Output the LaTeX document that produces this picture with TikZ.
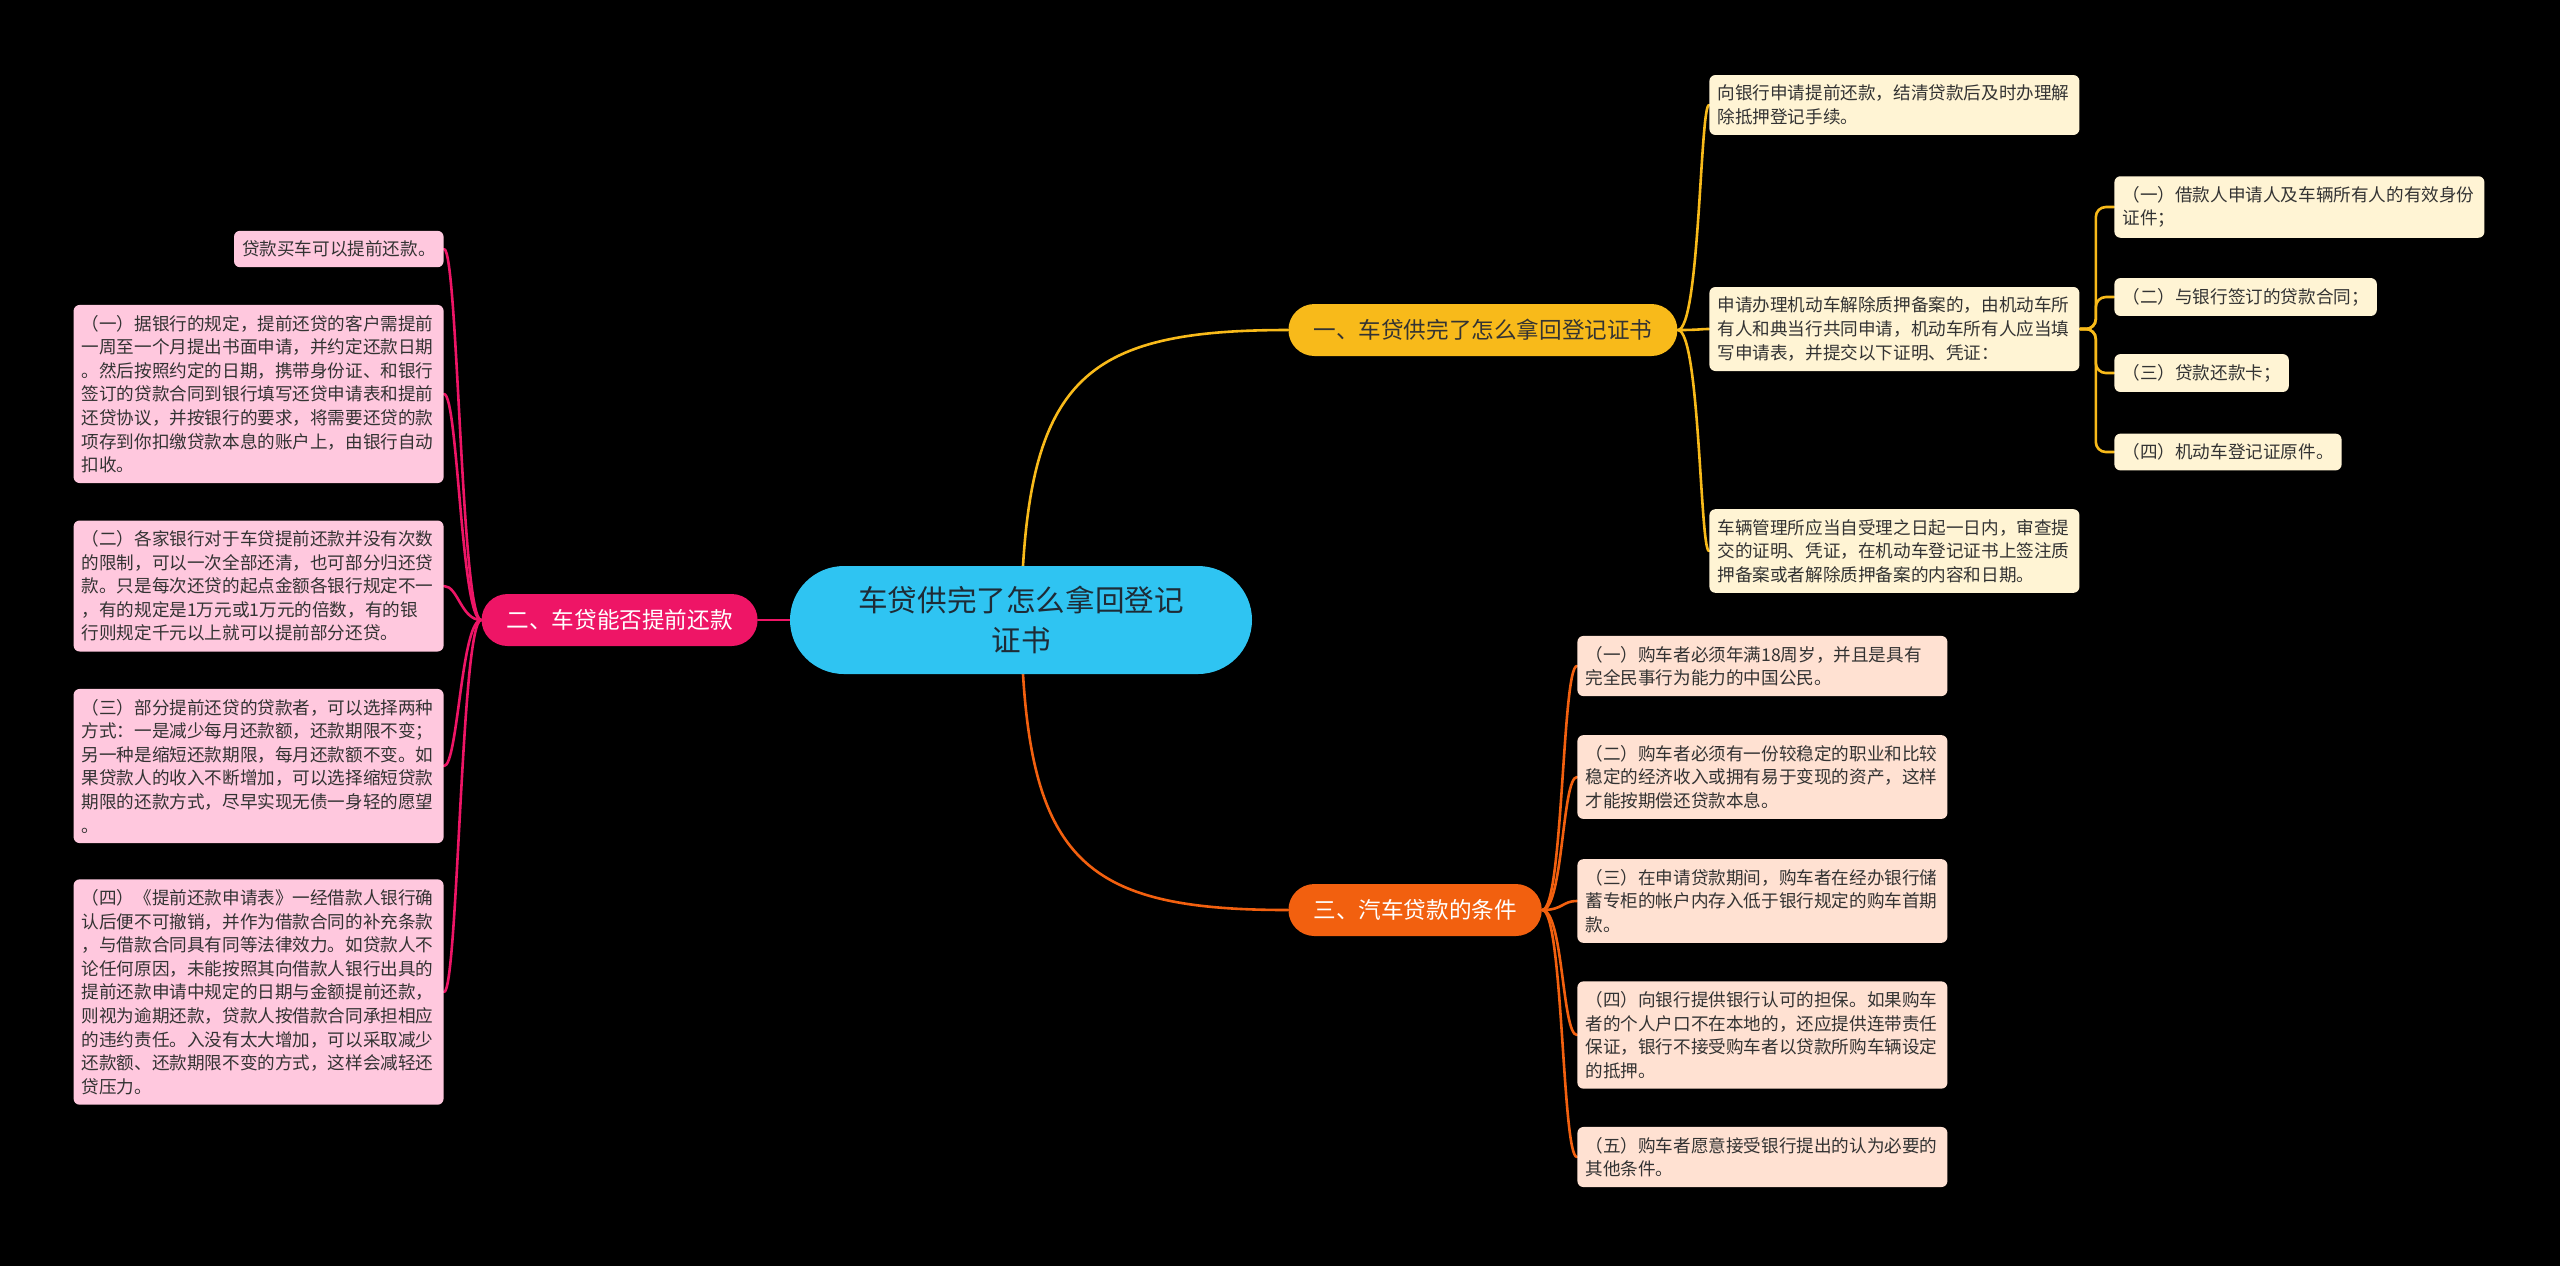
\documentclass[tikz,border=0pt]{standalone}
\usepackage{fontspec}
\setmainfont{Noto Sans CJK SC}
\usepackage{tikz}

\definecolor{rootblue}{HTML}{2FC4F2}
\definecolor{goldc}{HTML}{F8BA1A}
\definecolor{rosec}{HTML}{EE1566}
\definecolor{orangec}{HTML}{F2600F}
\definecolor{pinkleaf}{HTML}{FFC8DE}
\definecolor{creamleaf}{HTML}{FFF4D4}
\definecolor{peachleaf}{HTML}{FFE1D2}
\definecolor{inkgray}{HTML}{333333}
\definecolor{rootink}{HTML}{1E2B36}

\pgfdeclarelayer{bg}
\pgfdeclarelayer{wires}
\pgfsetlayers{bg,wires,main}

\begin{document}
\begin{tikzpicture}[x=0.5pt, y=-0.5pt,
    txt/.style={font=\fontsize{8.8pt}{11.8pt}\selectfont, text=inkgray},
    leaf/.style={txt, rounded corners=3pt, inner xsep=4pt, inner ysep=5pt, align=left},
    wideleaf/.style={leaf, text width=177pt},
    branch/.style={rounded corners=13pt, minimum height=26pt, inner xsep=12.5pt,
        font=\fontsize{11.3pt}{13pt}\selectfont},
    wire/.style={line width=1.3pt, line cap=round}]
    \useasboundingbox (0,0) rectangle (2560,1266);
    \begin{pgfonlayer}{bg}
        \fill[black] (0,0) rectangle (2560,1266);
    \end{pgfonlayer}

    % root and main branches
    \node[fill=rootblue, rounded corners=27pt, minimum width=231pt, minimum height=54pt,
        align=center, text=rootink, font=\fontsize{14.8pt}{19.6pt}\selectfont]
        (root) at (1021,620) {车贷供完了怎么拿回登记\\证书};
    \node[branch, fill=goldc, text=inkgray, anchor=west] (b1) at (1288,330) {一、车贷供完了怎么拿回登记证书};
    \node[branch, fill=rosec, text=white, anchor=east] (b2) at (758,620) {二、车贷能否提前还款};
    \node[branch, fill=orangec, text=white, anchor=west] (b3) at (1288,910) {三、汽车贷款的条件};

    % left side: pink leaves
    \node[leaf, fill=pinkleaf, anchor=east] (L0) at (444,249) {贷款买车可以提前还款。};
    \node[wideleaf, fill=pinkleaf, anchor=east] (L1) at (444,394) {（一）据银行的规定，提前还贷的客户需提前\\一周至一个月提出书面申请，并约定还款日期\\。然后按照约定的日期，携带身份证、和银行\\签订的贷款合同到银行填写还贷申请表和提前\\还贷协议，并按银行的要求，将需要还贷的款\\项存到你扣缴贷款本息的账户上，由银行自动\\扣收。};
    \node[wideleaf, fill=pinkleaf, anchor=east] (L2) at (444,586) {（二）各家银行对于车贷提前还款并没有次数\\的限制，可以一次全部还清，也可部分归还贷\\款。只是每次还贷的起点金额各银行规定不一\\，有的规定是1万元或1万元的倍数，有的银\\行则规定千元以上就可以提前部分还贷。};
    \node[wideleaf, fill=pinkleaf, anchor=east] (L3) at (444,766) {（三）部分提前还贷的贷款者，可以选择两种\\方式：一是减少每月还款额，还款期限不变；\\另一种是缩短还款期限，每月还款额不变。如\\果贷款人的收入不断增加，可以选择缩短贷款\\期限的还款方式，尽早实现无债一身轻的愿望\\。};
    \node[wideleaf, fill=pinkleaf, anchor=east] (L4) at (444,992) {（四）《提前还款申请表》一经借款人银行确\\认后便不可撤销，并作为借款合同的补充条款\\，与借款合同具有同等法律效力。如贷款人不\\论任何原因，未能按照其向借款人银行出具的\\提前还款申请中规定的日期与金额提前还款，\\则视为逾期还款，贷款人按借款合同承担相应\\的违约责任。入没有太大增加，可以采取减少\\还款额、还款期限不变的方式，这样会减轻还\\贷压力。};

    % right top: cream leaves
    \node[wideleaf, fill=creamleaf, anchor=west] (R1) at (1709,105) {向银行申请提前还款，结清贷款后及时办理解\\除抵押登记手续。};
    \node[wideleaf, fill=creamleaf, anchor=west] (R2) at (1709,329) {申请办理机动车解除质押备案的，由机动车所\\有人和典当行共同申请，机动车所有人应当填\\写申请表，并提交以下证明、凭证：};
    \node[wideleaf, fill=creamleaf, anchor=west] (R3) at (1709,551) {车辆管理所应当自受理之日起一日内，审查提\\交的证明、凭证，在机动车登记证书上签注质\\押备案或者解除质押备案的内容和日期。};
    \node[wideleaf, fill=creamleaf, anchor=west] (S1) at (2114,207) {（一）借款人申请人及车辆所有人的有效身份\\证件；};
    \node[leaf, fill=creamleaf, anchor=west] (S2) at (2114,297) {（二）与银行签订的贷款合同；};
    \node[leaf, fill=creamleaf, anchor=west] (S3) at (2114,373) {（三）贷款还款卡；};
    \node[leaf, fill=creamleaf, anchor=west] (S4) at (2114,452) {（四）机动车登记证原件。};

    % right bottom: peach leaves
    \node[wideleaf, fill=peachleaf, anchor=west] (O1) at (1577,666) {（一）购车者必须年满18周岁，并且是具有\\完全民事行为能力的中国公民。};
    \node[wideleaf, fill=peachleaf, anchor=west] (O2) at (1577,777) {（二）购车者必须有一份较稳定的职业和比较\\稳定的经济收入或拥有易于变现的资产，这样\\才能按期偿还贷款本息。};
    \node[wideleaf, fill=peachleaf, anchor=west] (O3) at (1577,901) {（三）在申请贷款期间，购车者在经办银行储\\蓄专柜的帐户内存入低于银行规定的购车首期\\款。};
    \node[wideleaf, fill=peachleaf, anchor=west] (O4) at (1577,1035) {（四）向银行提供银行认可的担保。如果购车\\者的个人户口不在本地的，还应提供连带责任\\保证，银行不接受购车者以贷款所购车辆设定\\的抵押。};
    \node[wideleaf, fill=peachleaf, anchor=west] (O5) at (1577,1157) {（五）购车者愿意接受银行提出的认为必要的\\其他条件。};

    % connectors
    \begin{pgfonlayer}{wires}
        \draw[wire, goldc] (root.center) .. controls (1025,380) and (1080,330) .. (b1.west);
        \draw[wire, orangec] (root.center) .. controls (1025,860) and (1080,910) .. (b3.west);
        \draw[wire, rosec] (root.center) -- (b2.east);
        \foreach \n in {L0,L1,L2,L3,L4}
            \draw[wire, rosec] (b2.west) .. controls +(-20,0) and +(14,0) .. (\n.east);
        \foreach \n in {R1,R2,R3}
            \draw[wire, goldc] (b1.east) .. controls +(22,0) and +(-9,0) .. (\n.west);
        \foreach \n in {S1,S2,S3,S4}
            \draw[wire, goldc, rounded corners=5pt] (R2.east) -- ++(16,0) |- (\n.west);
        \foreach \n in {O1,O2,O3,O4,O5}
            \draw[wire, orangec] (b3.east) .. controls +(21,0) and +(-15,0) .. (\n.west);
    \end{pgfonlayer}
\end{tikzpicture}
\end{document}
